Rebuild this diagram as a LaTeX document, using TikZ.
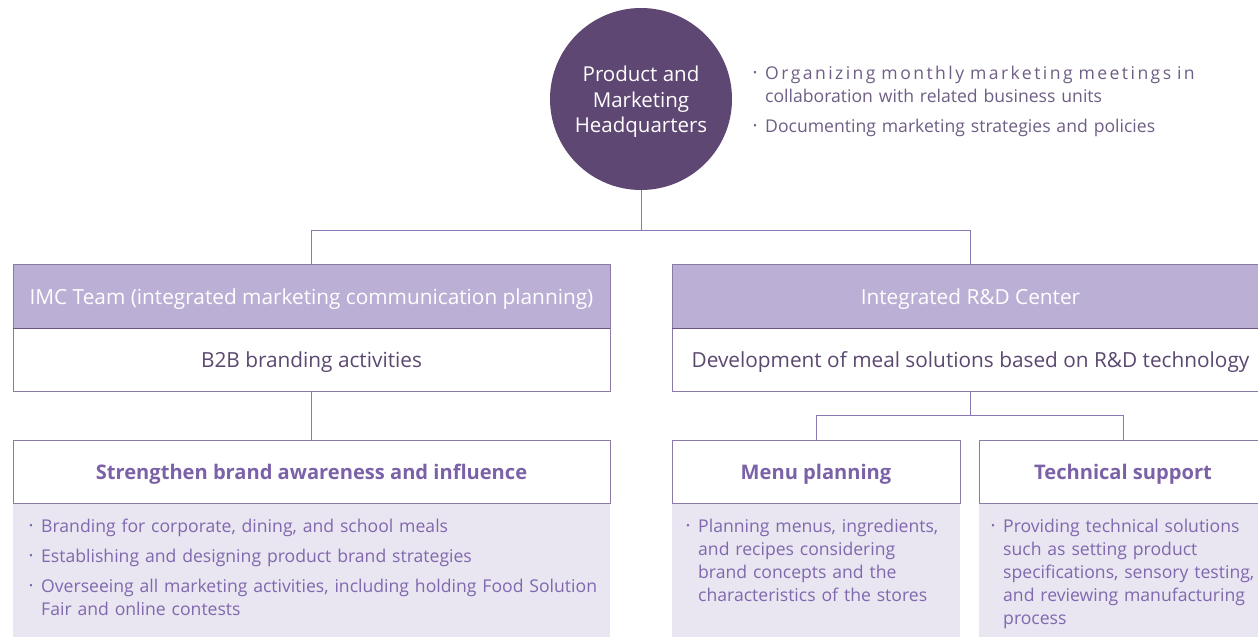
\documentclass[tikz,border=0pt]{standalone}
\usepackage{fontspec}
\setmainfont{Open Sans}
\definecolor{hqc}{HTML}{5E4772}
\definecolor{hdrfill}{HTML}{BBAFD5}
\definecolor{bordc}{HTML}{8A7AA6}
\definecolor{divc}{HTML}{6B5580}
\definecolor{linec}{HTML}{8A78B5}
\definecolor{lightc}{HTML}{E9E5F1}
\definecolor{headc}{HTML}{7B62A8}
\definecolor{bulc}{HTML}{8068AE}
\definecolor{bodyc}{HTML}{5B4870}
\definecolor{topc}{HTML}{6E5E85}
\newcommand\bitem[1]{\par\noindent\hangindent=12pt\hangafter=1\makebox[12pt][l]{\raisebox{0.3ex}{\fontsize{10.5}{10.5}\selectfont•}}#1}
\tikzset{
  boxtext/.style={text height=20pt, text depth=4pt},
  hdrbox/.style={boxtext, draw=bordc, fill=hdrfill, line width=0.8pt, minimum height=64pt, inner sep=0pt, text=white, font=\fontsize{20.8}{24}\selectfont},
  whitebox/.style={boxtext, draw=bordc, fill=white, line width=0.8pt, minimum height=63pt, inner sep=0pt, text=bodyc, font=\fontsize{20.8}{24}\selectfont},
  headbox/.style={boxtext, draw=bordc, fill=white, line width=0.8pt, minimum height=63pt, inner sep=0pt, text=headc, font=\bfseries\fontsize{20.1}{24}\selectfont},
  lightbox/.style={fill=lightc, inner sep=0pt, minimum height=140pt, anchor=north},
  bullettext/.style={anchor=north west, inner sep=0pt, align=left, text=bulc, font=\fontsize{17.6}{23}\selectfont\setlength{\parskip}{7pt}},
  divider/.style={draw=divc, line width=1.6pt},
  conn/.style={draw=linec, line width=0.9pt}
}
\begin{document}
\begin{tikzpicture}[x=1pt,y=-1pt]
\useasboundingbox (0,0) rectangle (1258,637);
% headquarters
\node[circle, fill=hqc, minimum size=182pt, inner sep=0pt] (hq) at (641,99) {};
\node[text=white, align=center, inner sep=0pt, font=\fontsize{20.5}{25.5}\selectfont] (hqlbl) at (641,102) {Product and\\Marketing\\Headquarters};
\node[anchor=north west, inner sep=0pt, align=left, text width=480pt, text=topc, font=\fontsize{17.6}{23}\selectfont\setlength{\parskip}{7pt}] (hqtext) at (753,49)
 {\bitem{{\addfontfeature{LetterSpace=13.8}Organizing monthly marketing meetings in}\newline collaboration with related business units}
  \bitem{Documenting marketing strategies and policies}\par};
% level 2
\node[hdrbox, minimum width=597pt] (imc) at (311.5,296) {IMC Team (integrated marketing communication planning)};
\node[whitebox, minimum width=597pt] (b2b) at (311.5,359.5) {B2B branding activities};
\draw[divider] (imc.south west) -- (imc.south east);
\node[hdrbox, minimum width=597pt] (rd) at (970.5,296) {Integrated R\&D Center};
\node[whitebox, minimum width=597pt] (meal) at (970.5,359.5) {Development of meal solutions based on R\&D technology};
\draw[divider] (rd.south west) -- (rd.south east);
% level 3
\node[lightbox, minimum width=597pt] (strl) at (311.5,503) {};
\node[headbox, minimum width=597pt] (str) at (311.5,471.5) {Strengthen brand awareness and influence};
\node[lightbox, minimum width=288pt] (menul) at (816,503) {};
\node[headbox, minimum width=288pt] (menu) at (816,471.5) {Menu planning};
\node[lightbox, minimum width=288pt] (techl) at (1123,503) {};
\node[headbox, minimum width=288pt] (tech) at (1123,471.5) {Technical support};
% bullet texts
\node[bullettext, text width=590pt] (strt) at (29,502)
 {\bitem{Branding for corporate, dining, and school meals}
  \bitem{Establishing and designing product brand strategies}
  \bitem{Overseeing all marketing activities, including holding Food Solution\newline Fair and online contests}\par};
\node[bullettext, text width=290pt] (menut) at (686,502)
 {\bitem{Planning menus, ingredients,\newline and recipes considering\newline brand concepts and the\newline characteristics of the stores}\par};
\node[bullettext, text width=300pt] (techt) at (991,502)
 {\bitem{Providing technical solutions\newline such as setting product\newline specifications, sensory testing,\newline and reviewing manufacturing\newline process}\par};
% connectors
\coordinate (j1) at (641,230);
\draw[conn] (hq.south) -- (j1);
\draw[conn] (imc.north) -- (imc.north |- j1) -- (rd.north |- j1) -- (rd.north);
\draw[conn] (b2b.south) -- (str.north);
\coordinate (j2) at (970.5,415);
\draw[conn] (meal.south) -- (j2);
\draw[conn] (menu.north) -- (menu.north |- j2) -- (tech.north |- j2) -- (tech.north);
\end{tikzpicture}
\end{document}
